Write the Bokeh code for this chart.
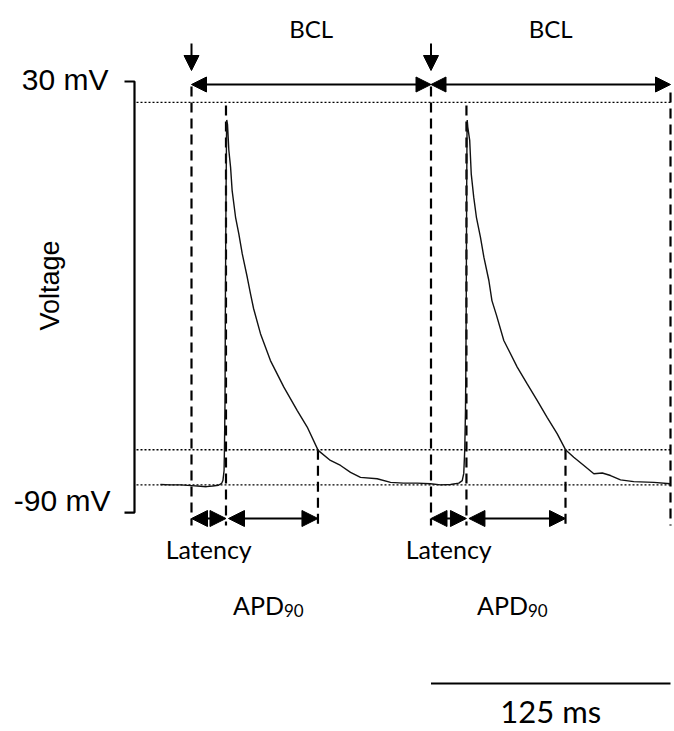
import math
from bokeh.plotting import figure
from bokeh.models import Range1d, Arrow, NormalHead
from bokeh.core.properties import value
from bokeh.embed import file_html
from bokeh.resources import INLINE

# ---------------- data ----------------
trace_t_ms = [-16.2, -11.0, -5.7, 0.0, 4.7, 7.8, 11.0, 14.1, 15.7, 16.4, 17.0, 17.2, 17.5, 17.7,
              18.0, 18.3, 18.4, 18.8, 19.5, 20.4, 21.2, 23.0, 24.7, 26.5, 29.1, 30.8, 32.4, 36.0,
              41.2, 48.2, 55.2, 60.4, 66.1, 72.5, 77.8, 83.0, 88.2, 96.9, 103.9, 110.6, 117.8,
              124.7, 130.0, 135.2, 139.5, 141.3, 142.1, 142.6, 143.0, 143.2, 143.4, 143.6, 143.8,
              143.9, 144.2, 145.2, 146.0, 147.3, 148.7, 150.8, 152.6, 155.2, 156.8, 159.2, 163.0,
              170.0, 175.2, 180.4, 185.6, 190.9, 195.2, 199.5, 204.8, 210.0, 214.4, 218.7, 223.9,
              230.8, 241.3, 250.0]
trace_v_mv = [-82.2, -82.3, -82.3, -82.5, -82.7, -82.8, -82.6, -82.4, -81.9, -81.1, -78.3, -72.4,
              -58.8, -31.0, -3.1, 16.4, 19.3, 18.0, 10.8, 6.1, -0.3, -7.8, -12.4, -18.0, -24.5,
              -29.1, -33.2, -40.2, -47.7, -55.1, -61.6, -66.2, -72.7, -75.5, -76.9, -78.8, -80.2,
              -80.6, -81.6, -81.8, -81.8, -82.0, -82.3, -82.2, -81.8, -81.1, -79.1, -72.7, -61.6,
              -49.5, -31.0, -3.1, 16.4, 19.3, 17.3, 13.6, 4.3, -2.2, -7.8, -13.3, -18.9, -25.4,
              -31.0, -35.1, -42.1, -49.5, -54.2, -58.8, -63.5, -68.1, -72.5, -74.6, -76.9, -79.2,
              -79.0, -79.7, -80.9, -81.4, -81.6, -82.0]

stim_times_ms = [0, 125]
bcl_ms = 125
latency_ms = [18.0, 18.5]
apd90_ms = [48.0, 51.7]
reference_levels_mv = [24.2, -72.5, -82.3]   # peak line, APD90 level, resting level
volt_scale_mv = [30, -90]
volt_scale_labels = ["30 mV", "-90 mV"]
time_scale_ms = 125
time_scale_label = "125 ms"
bcl_label = "BCL"
latency_label = "Latency"
apd_label = "APD"
apd_subscript = "90"
y_title = "Voltage"

# ---------------- layout ----------------
W, H = 674, 731
PX_MS = 1.916      # pixels per ms
PX_MV = 3.592      # pixels per mV
X0_PX = 191        # pixel column of t = 0
Y30_PX = 81        # pixel row of +30 mV

x_start = -X0_PX / PX_MS
x_end = x_start + W / PX_MS
y_end = volt_scale_mv[0] + Y30_PX / PX_MV
y_start = y_end - H / PX_MV

def T(px):
    return x_start + px / PX_MS

def V(py):
    return y_end - py / PX_MV

p = figure(width=W, height=H, x_range=Range1d(x_start, x_end), y_range=Range1d(y_start, y_end),
           output_backend="svg", toolbar_location=None, min_border=0,
           x_axis_type=None, y_axis_type=None)
p.grid.visible = False
p.outline_line_color = None
p.background_fill_color = "white"
p.border_fill_color = "white"

t_end = stim_times_ms[-1] + bcl_ms
up_times = [s + l for s, l in zip(stim_times_ms, latency_ms)]
apd_end = [u + a for u, a in zip(up_times, apd90_ms)]

DASH = "10 6"
# vertical dashed markers
p.segment(x0=stim_times_ms, x1=stim_times_ms, y0=[V(86)] * 2, y1=[V(525)] * 2,
          line_dash=DASH, line_width=2.2, color="black")
p.segment(x0=[t_end], x1=[t_end], y0=[V(92)], y1=[V(525)],
          line_dash=DASH, line_width=2.2, color="black")
p.segment(x0=up_times, x1=up_times, y0=[V(105)] * 2, y1=[V(525)] * 2,
          line_dash=DASH, line_width=2.2, color="black")
p.segment(x0=apd_end, x1=apd_end, y0=[reference_levels_mv[1]] * 2, y1=[V(525)] * 2,
          line_dash=DASH, line_width=2.2, color="black")

# dotted reference levels
n = len(reference_levels_mv)
p.segment(x0=[T(136)] * n, x1=[t_end] * n, y0=reference_levels_mv, y1=reference_levels_mv,
          line_dash="2 2", line_width=1.4, color="black")

# voltage trace
p.line(trace_t_ms, trace_v_mv, line_width=1.4, color="#111111")

# voltage scale bar
p.line([T(124), T(134), T(134), T(124)],
       [volt_scale_mv[0], volt_scale_mv[0], volt_scale_mv[1], volt_scale_mv[1]],
       line_width=2.2, color="black")
p.text(x=[T(108), T(110)], y=[V(79), V(500)], text=volt_scale_labels,
       text_font=value("Liberation Sans"), text_font_size="30px",
       text_align="right", text_baseline="middle", text_color="black")
p.text(x=[T(49)], y=[V(285)], text=[y_title], angle=math.pi / 2,
       text_font=value("Liberation Sans"), text_font_size="27px",
       text_align="center", text_baseline="middle", text_color="black")

# arrows
def head(sz):
    return NormalHead(size=sz, fill_color="black", line_color="black", line_width=1)

for s in stim_times_ms:
    p.add_layout(Arrow(x_start=s, y_start=V(43), x_end=s, y_end=V(70), start=None,
                       end=head(15), line_width=2, line_color="black"))
    p.add_layout(Arrow(x_start=s, y_start=V(84), x_end=s + bcl_ms, y_end=V(84),
                       start=head(15), end=head(15), line_width=2, line_color="black"))

for s, u, a in zip(stim_times_ms, up_times, apd_end):
    p.add_layout(Arrow(x_start=s, y_start=V(518), x_end=u, y_end=V(518),
                       start=head(16), end=head(16), line_width=2, line_color="black"))
    p.add_layout(Arrow(x_start=u + 2.5 / PX_MS, y_start=V(518), x_end=a, y_end=V(518),
                       start=head(16), end=head(16), line_width=2, line_color="black"))

# labels
FONT = value("Lato")
p.text(x=[s + bcl_ms / 2 for s in stim_times_ms], y=[V(28)] * 2, text=[bcl_label] * 2,
       text_font=FONT, text_font_size="24px", text_align="center",
       text_baseline="middle", text_color="black")
p.text(x=[(s + u) / 2 for s, u in zip(stim_times_ms, up_times)], y=[V(548)] * 2,
       text=[latency_label] * 2, text_font=FONT, text_font_size="25px",
       text_align="center", text_baseline="middle", text_color="black")
split = [(u + a) / 2 + 12 / PX_MS for u, a in zip(up_times, apd_end)]
p.text(x=split, y=[V(604)] * 2, text=[apd_label] * 2, text_font=FONT, text_font_size="25px",
       text_align="right", text_baseline="middle", text_color="black")
p.text(x=split, y=[V(610)] * 2, text=[apd_subscript] * 2, text_font=FONT,
       text_font_size="17px", text_align="left", text_baseline="middle", text_color="black")

# time scale bar
p.line([t_end - time_scale_ms, t_end], [V(683), V(683)], line_width=2, color="black")
p.text(x=[t_end - time_scale_ms / 2], y=[V(710)], text=[time_scale_label], text_font=FONT,
       text_font_size="31px", text_align="center", text_baseline="middle",
       text_color="black")

open("out.html", "w").write(file_html(p, INLINE))
